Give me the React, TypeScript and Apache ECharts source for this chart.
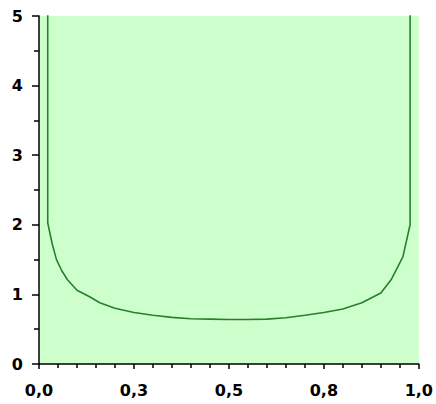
import React, { useEffect, useRef } from "react";
import * as echarts from "echarts";

const xValues = [0.023, 0.023, 0.035, 0.046, 0.06, 0.075, 0.1, 0.132, 0.16, 0.2, 0.25, 0.3, 0.35, 0.4, 0.45, 0.5, 0.55, 0.6, 0.65, 0.7, 0.75, 0.8, 0.85, 0.9, 0.927, 0.958, 0.977, 0.977];
const yValues = [6.0, 2.03, 1.72, 1.5, 1.34, 1.21, 1.06, 0.97, 0.88, 0.8, 0.74, 0.7, 0.67, 0.65, 0.645, 0.64, 0.64, 0.645, 0.665, 0.7, 0.74, 0.79, 0.88, 1.02, 1.21, 1.54, 2.0, 6.0];
const xTickLabels = ["0,0", "0,3", "0,5", "0,8", "1,0"];
const yTickLabels = ["0", "1", "2", "3", "4", "5"];

export default function App() {
  const ref = useRef<HTMLDivElement>(null);
  useEffect(() => {
    if (!ref.current) return;
    const chart = echarts.init(ref.current, null, { renderer: "svg" });
    const data = xValues.map((x, i) => [x, yValues[i]]);
    const labelStyle = {
      color: "#000",
      fontWeight: "bold" as const,
      fontSize: 16,
      fontFamily: "DejaVu Sans",
    };
    chart.setOption({
      animation: false,
      backgroundColor: "#ffffff",
      grid: {
        left: 39,
        right: 14,
        top: 16,
        bottom: 40,
        show: true,
        backgroundColor: "#ccffcc",
        borderWidth: 0,
      },
      xAxis: {
        type: "value",
        min: 0,
        max: 1,
        interval: 0.25,
        axisLine: { show: true, lineStyle: { color: "#000", width: 1.5 } },
        axisTick: { show: true, length: 5, lineStyle: { color: "#000", width: 1.5 } },
        minorTick: { show: true, splitNumber: 5, length: 4, lineStyle: { color: "#000", width: 1.5 } },
        splitLine: { show: false },
        axisLabel: {
          ...labelStyle,
          margin: 18,
          formatter: (v: number) => xTickLabels[Math.round(v / 0.25)] ?? "",
        },
      },
      yAxis: {
        type: "value",
        min: 0,
        max: 5,
        interval: 1,
        axisLine: { show: true, lineStyle: { color: "#000", width: 1.5 } },
        axisTick: { show: true, length: 7, lineStyle: { color: "#000", width: 1.5 } },
        minorTick: { show: true, splitNumber: 2, length: 5, lineStyle: { color: "#000", width: 1.5 } },
        splitLine: { show: false },
        axisLabel: {
          ...labelStyle,
          margin: 16,
          formatter: (v: number) => yTickLabels[Math.round(v)] ?? "",
        },
      },
      series: [
        {
          type: "line",
          data,
          showSymbol: false,
          clip: true,
          lineStyle: { color: "#2a7f2a", width: 1.6 },
        },
      ],
    });
    return () => chart.dispose();
  }, []);
  return (
    <div
      ref={ref}
      style={{ position: "fixed", left: 0, top: 0, width: 436, height: 404 }}
    />
  );
}
